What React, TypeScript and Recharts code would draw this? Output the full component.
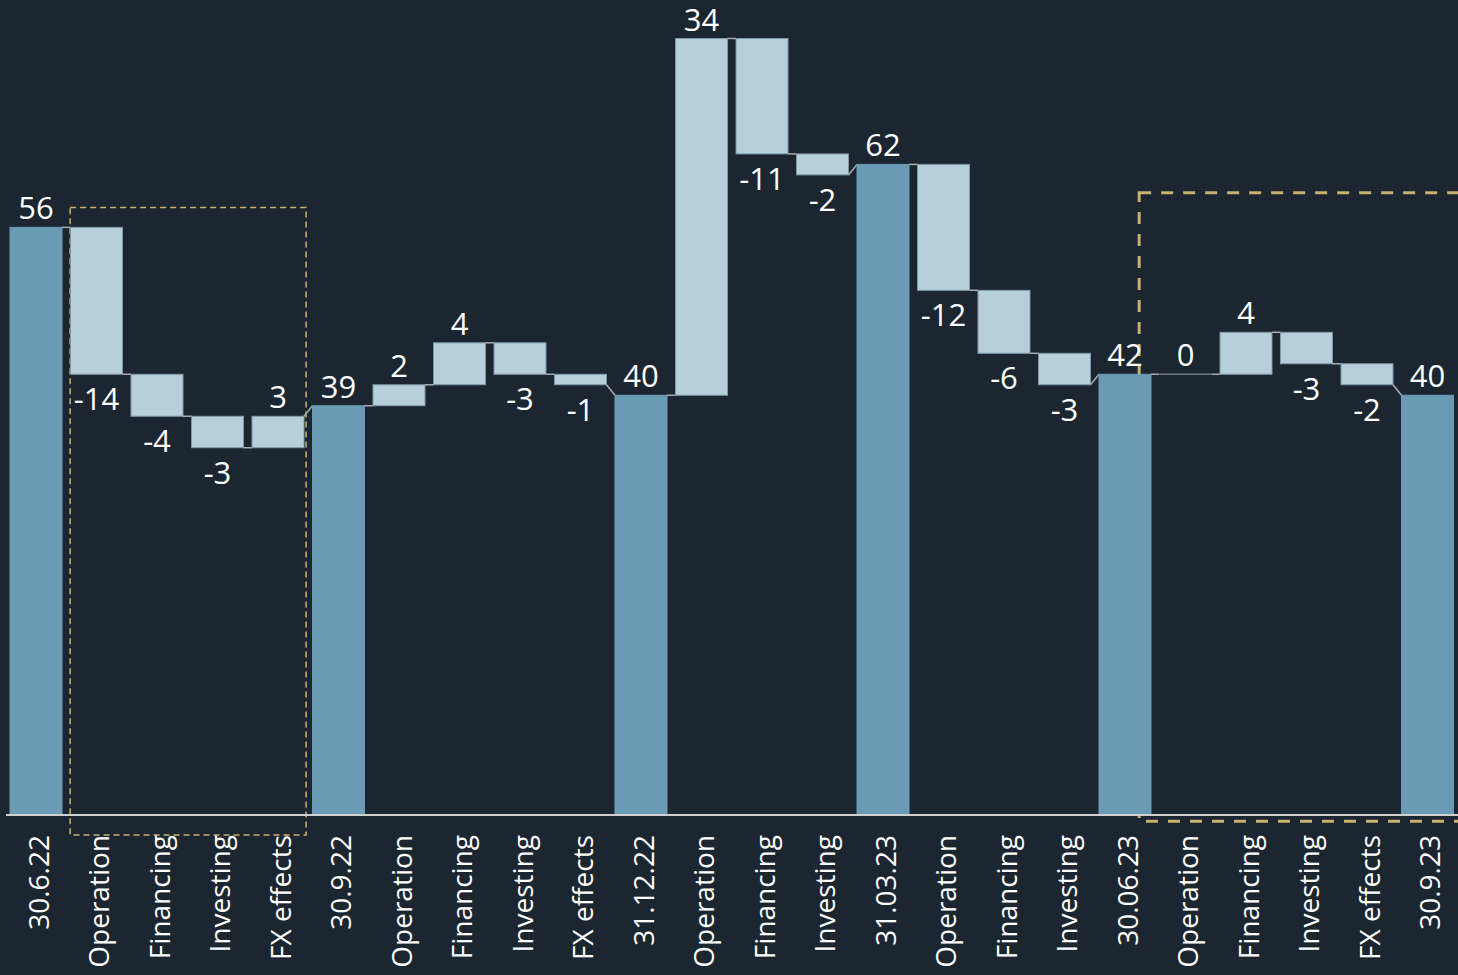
import { Bar, BarChart, ReferenceArea, XAxis, YAxis } from "recharts";

const categories = [
  "30.6.22", "Operation", "Financing", "Investing", "FX effects",
  "30.9.22", "Operation", "Financing", "Investing", "FX effects",
  "31.12.22", "Operation", "Financing", "Investing",
  "31.03.23", "Operation", "Financing", "Investing",
  "30.06.23", "Operation", "Financing", "Investing", "FX effects",
  "30.9.23",
];
const values = [56, -14, -4, -3, 3, 39, 2, 4, -3, -1, 40, 34, -11, -2, 62, -12, -6, -3, 42, 0, 4, -3, -2, 40];
const isTotal = [
  true, false, false, false, false,
  true, false, false, false, false,
  true, false, false, false,
  true, false, false, false,
  true, false, false, false, false,
  true,
];

const W = 1458;
const H = 975;
const MARGIN = { top: 28, right: 0, bottom: 0, left: 6 };
const AXIS_H = 160;
const Y_MAX = 75;
const STEP = (W - MARGIN.left - MARGIN.right) / categories.length;
const PLOT_TOP = MARGIN.top;
const PLOT_H = H - MARGIN.top - MARGIN.bottom - AXIS_H;

const BG = "#1b2631";
const TOTAL_FILL = "#6b9bb4";
const DELTA_FILL = "#b7cfdb";
const DELTA_STROKE = "#7f98a6";
const CONNECTOR = "#a8acb0";
const GOLD = "#c8b26e";
const FONT = "'Open Sans', sans-serif";

let running = 0;
const data = categories.map((name, i) => {
  const v = values[i];
  const pos = i + 0.5;
  if (isTotal[i]) {
    running = v;
    return { key: `c${i}`, pos, name, value: v, total: true, start: v, end: v, range: [0, v] };
  }
  const start = running;
  const end = running + v;
  running = end;
  return { key: `c${i}`, pos, name, value: v, total: false, start, end, range: [Math.min(start, end), Math.max(start, end)] };
});

function WaterfallBar(props: any) {
  const { x, width, index, background } = props;
  const d = data[index];
  const top = background?.y ?? PLOT_TOP;
  const h = background?.height ?? PLOT_H;
  const py = (v: number) => top + h * (1 - v / Y_MAX);
  const yHi = py(Math.max(d.range[0], d.range[1]));
  const yLo = py(Math.min(d.range[0], d.range[1]));
  const next = data[index + 1];
  const cx = x + width / 2;
  const labelY = d.value < 0 ? yLo + 36 : yHi - 8;
  return (
    <g>
      {yLo - yHi > 0.5 ? (
        <rect
          x={x}
          y={yHi}
          width={width}
          height={yLo - yHi}
          fill={d.total ? TOTAL_FILL : DELTA_FILL}
          stroke={d.total ? TOTAL_FILL : DELTA_STROKE}
          strokeWidth={1}
        />
      ) : (
        <line x1={x} x2={x + width} y1={yHi} y2={yHi} stroke="#6d7a84" strokeWidth={1.5} />
      )}
      {next && (
        <line
          x1={x + width}
          y1={py(d.end)}
          x2={x + STEP}
          y2={py(next.start)}
          stroke={CONNECTOR}
          strokeWidth={1.5}
        />
      )}
      <text x={cx} y={labelY} textAnchor="middle" fill="#ffffff" fontSize={31} fontFamily={FONT}>
        {d.value}
      </text>
    </g>
  );
}

function CategoryTick({ x, y, payload }: any) {
  const d = data[payload.index];
  return (
    <text
      transform={`translate(${x}, ${y}) rotate(-90)`}
      textAnchor="end"
      dy="0.45em"
      fill="#ffffff"
      fontSize={28}
      fontFamily={FONT}
    >
      {d ? d.name : ""}
    </text>
  );
}

export default function App() {
  return (
    <div style={{ position: "absolute", left: 0, top: 0, width: W, height: H, background: BG, overflow: "hidden" }}>
      <BarChart width={W} height={H} data={data} margin={MARGIN} barSize={52}>
        <XAxis
          dataKey="key"
          height={AXIS_H}
          interval={0}
          tickLine={false}
          tickSize={0}
          tickMargin={20}
          axisLine={{ stroke: "#cfcfcf", strokeWidth: 2 }}
          tick={<CategoryTick />}
        />
        <XAxis xAxisId="n" dataKey="pos" type="number" domain={[0, categories.length]} allowDataOverflow hide />
        <YAxis type="number" domain={[0, Y_MAX]} hide />
        <Bar dataKey="range" shape={<WaterfallBar />} isAnimationActive={false} />
        <ReferenceArea
          xAxisId="n"
          x1={1.06}
          x2={4.96}
          y1={-1.9}
          y2={57.9}
          ifOverflow="visible"
          fill="none"
          stroke={GOLD}
          strokeWidth={1.5}
          strokeDasharray="6 4"
        />
        <ReferenceArea
          xAxisId="n"
          x1={18.73}
          x2={24.6}
          y1={-0.6}
          y2={59.3}
          ifOverflow="visible"
          fill="none"
          stroke={GOLD}
          strokeWidth={3}
          strokeDasharray="12 10"
        />
      </BarChart>
    </div>
  );
}
